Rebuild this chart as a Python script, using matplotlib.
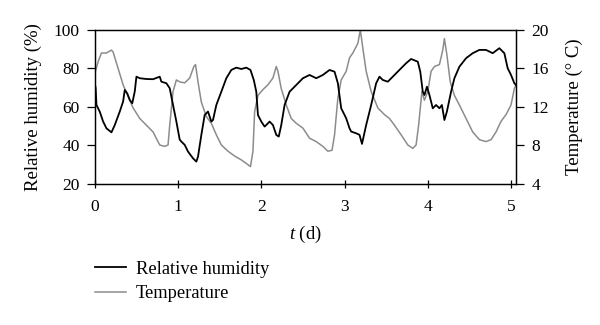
import numpy as np
import matplotlib
matplotlib.use("Agg")
import matplotlib.pyplot as plt

plt.rcParams['font.family'] = ['Liberation Serif', 'DejaVu Serif']
plt.rcParams['mathtext.fontset'] = 'custom'
plt.rcParams['mathtext.it'] = 'Liberation Serif:italic'
plt.rcParams['mathtext.rm'] = 'Liberation Serif'

# relative humidity (%) vs time (d)
t_rh = [0.00, 0.01, 0.02, 0.06, 0.10, 0.14, 0.20, 0.24, 0.30, 0.34, 0.36, 0.39,
        0.42, 0.45, 0.48, 0.50, 0.54, 0.62, 0.70, 0.78, 0.80, 0.86, 0.90, 0.94,
        0.98, 1.02, 1.04, 1.08, 1.12, 1.18, 1.22, 1.24, 1.28, 1.32, 1.36, 1.40,
        1.42, 1.46, 1.52, 1.58, 1.64, 1.70, 1.76, 1.82, 1.87, 1.91, 1.94, 1.96,
        2.00, 2.04, 2.06, 2.10, 2.14, 2.18, 2.21, 2.24, 2.28, 2.34, 2.42, 2.50,
        2.58, 2.66, 2.74, 2.82, 2.88, 2.92, 2.96, 3.02, 3.06, 3.08, 3.14, 3.18,
        3.21, 3.26, 3.32, 3.38, 3.42, 3.46, 3.52, 3.60, 3.68, 3.74, 3.80, 3.88,
        3.91, 3.94, 3.96, 3.99, 4.02, 4.06, 4.10, 4.14, 4.17, 4.20, 4.23, 4.28,
        4.32, 4.38, 4.46, 4.54, 4.62, 4.70, 4.78, 4.86, 4.92, 4.96, 5.00, 5.04,
        5.06]
rh = [72.0, 69.9, 61.0, 57.5, 52.4, 48.9, 46.8, 50.6, 57.6, 62.8, 68.8, 67.0,
      63.6, 61.9, 68.0, 75.7, 74.9, 74.5, 74.4, 75.7, 73.1, 72.3, 69.7, 61.0,
      52.4, 43.0, 42.0, 40.3, 36.8, 33.3, 31.6, 34.2, 45.5, 55.8, 57.6, 52.4,
      53.2, 61.0, 67.9, 74.9, 79.2, 80.4, 79.7, 80.4, 79.2, 74.0, 67.9, 55.8,
      52.4, 49.8, 50.6, 52.4, 50.6, 45.5, 44.6, 50.6, 61.0, 67.9, 71.4, 74.9,
      76.6, 74.9, 76.6, 79.2, 78.3, 72.3, 59.3, 54.1, 48.9, 47.2, 46.3, 45.5,
      40.8, 50.6, 61.0, 72.3, 75.7, 74.0, 73.1, 76.6, 80.1, 82.7, 84.9, 83.5,
      78.3, 67.9, 66.2, 70.5, 66.2, 59.3, 61.0, 59.3, 61.0, 53.2, 57.6, 67.9,
      74.9, 80.9, 85.3, 87.9, 89.6, 89.6, 87.9, 90.5, 87.9, 80.1, 76.6, 72.3,
      71.4]

# temperature (deg C) vs time (d)
t_temp = [0.00, 0.04, 0.08, 0.14, 0.20, 0.22, 0.28, 0.34, 0.40, 0.46, 0.54, 0.62,
          0.70, 0.78, 0.84, 0.88, 0.90, 0.94, 0.98, 1.02, 1.08, 1.14, 1.19, 1.21,
          1.24, 1.28, 1.34, 1.40, 1.46, 1.52, 1.60, 1.68, 1.76, 1.84, 1.87, 1.90,
          1.92, 1.96, 2.02, 2.08, 2.14, 2.18, 2.20, 2.24, 2.30, 2.36, 2.42, 2.50,
          2.58, 2.66, 2.74, 2.80, 2.85, 2.88, 2.92, 2.96, 3.02, 3.06, 3.10, 3.16,
          3.19, 3.22, 3.26, 3.32, 3.40, 3.48, 3.54, 3.60, 3.68, 3.76, 3.82, 3.86,
          3.89, 3.93, 3.96, 4.00, 4.04, 4.08, 4.14, 4.18, 4.20, 4.23, 4.27, 4.32,
          4.38, 4.46, 4.54, 4.62, 4.70, 4.76, 4.82, 4.88, 4.94, 5.00, 5.04, 5.06]
temp = [15.5, 16.7, 17.6, 17.6, 17.9, 17.7, 16.0, 14.3, 13.1, 11.9, 10.8, 10.1,
        9.4, 8.05, 7.9, 8.05, 10.1, 13.6, 14.8, 14.6, 14.5, 15.0, 16.2, 16.4,
        14.6, 12.5, 11.0, 10.3, 9.1, 8.05, 7.4, 6.9, 6.5, 6.0, 5.8, 7.4,
        11.5, 13.2, 13.8, 14.3, 15.0, 16.2, 15.7, 13.9, 12.2, 10.8, 10.3, 9.8,
        8.75, 8.4, 7.9, 7.4, 7.5, 9.1, 12.9, 14.8, 15.7, 17.1, 17.6, 18.6,
        20.0, 18.1, 15.7, 13.6, 11.9, 11.2, 10.8, 10.1, 9.1, 8.05, 7.7, 8.05,
        10.1, 13.6, 12.7, 13.6, 15.7, 16.2, 16.4, 17.9, 19.1, 17.4, 14.6, 13.2,
        12.2, 10.8, 9.4, 8.6, 8.4, 8.6, 9.4, 10.5, 11.2, 12.2, 13.9, 14.3]

fig = plt.figure(figsize=(6, 3.25), dpi=100)
ax = fig.add_axes([0.158, 0.434, 0.702, 0.474])
ax2 = ax.twinx()

l1, = ax.plot(t_rh, rh, color='black', lw=1.3, zorder=3)
l2, = ax2.plot(t_temp, temp, color='#8c8c8c', lw=1.1)
ax.set_zorder(ax2.get_zorder() + 1)
ax.patch.set_visible(False)

ax.set_xlim(0, 5.06)
ax.set_ylim(20, 100)
ax2.set_ylim(4, 20)
ax.set_yticks([20, 40, 60, 80, 100])
ax2.set_yticks([4, 8, 12, 16, 20])
ax.set_xticks([0, 1, 2, 3, 4, 5])

ax.tick_params(axis='y', direction='out', length=6, width=0.9, labelsize=12.5, pad=5)
ax.tick_params(axis='x', direction='inout', length=6, width=0.9, labelsize=12.5, pad=8)
ax2.tick_params(axis='y', direction='out', length=6, width=0.9, labelsize=12.5, pad=5)

ax.set_xlabel('$t$ (d)', fontsize=13.5, labelpad=6)
ax.set_ylabel('Relative humidity (%)', fontsize=13.5, labelpad=8)
ax2.set_ylabel('Temperature (° C)', fontsize=13.5, labelpad=12)

for a in (ax, ax2):
    for s in a.spines.values():
        s.set_linewidth(0.9)

fig.legend([l1, l2], ['Relative humidity', 'Temperature'], loc='upper left',
           bbox_to_anchor=(0.146, 0.22), frameon=False, fontsize=13.3,
           handlelength=1.7, handletextpad=0.5, labelspacing=0.4,
           borderaxespad=0)

fig.savefig('out.png', dpi=100)
